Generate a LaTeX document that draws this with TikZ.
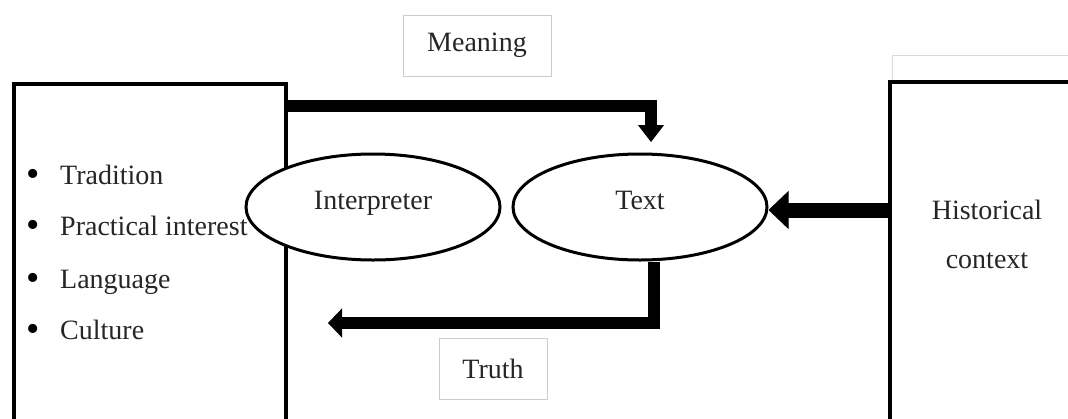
\documentclass[tikz,border=0pt]{standalone}
\usepackage{fontspec}
\setmainfont{Liberation Serif}
\usetikzlibrary{shapes.geometric,arrows.meta}
\begin{document}
\begin{tikzpicture}[x=1pt,y=-1pt,
    every node/.style={font=\fontsize{28}{34}\selectfont,text=black!85},
    thinbox/.style={draw=gray!40,line width=1pt,inner sep=0pt},
    bigbox/.style={draw,line width=4pt,fill=white,inner sep=0pt,anchor=north west},
    oval/.style={draw,ellipse,fill=white,line width=3pt,minimum width=254pt,minimum height=106pt,
      inner sep=0pt,text height=16pt,text depth=12pt},
    bar/.style={line width=12pt,line join=miter}]
  \clip (0,0) rectangle (1068,418);
  % left box with the list
  \node[bigbox,minimum width=272pt,minimum height=360pt] (factors) at (12,82) {};
  \foreach \y/\t in {184/Tradition,235/Practical interest,288/Language,339/Culture} {
    \node[anchor=base,inner sep=0pt,font=\fontsize{38}{38}\selectfont,text=black] (dot\y) at (33,\y+2) {\textbullet};
    \node[anchor=base west,inner sep=0pt] (item\y) at (60,\y) {\t};
  }
  % ovals
  \node[oval] (interp) at (373,207) {Interpreter};
  \node[oval] (text) at (640,207) {Text};
  % right box
  \node[thinbox,draw=gray!30,minimum width=200pt,minimum height=40pt,anchor=north west] (histtop) at (892,55) {};
  \node[bigbox,minimum width=200pt,minimum height=360pt] (hist) at (888,80) {};
  \node[align=center,font=\fontsize{28}{49}\selectfont] (histlabel) at (987,234) {Historical\\context};
  % labels
  \node[thinbox,minimum width=148pt,minimum height=61pt] (meaning) at (477,45.5) {Meaning};
  \node[thinbox,minimum width=108pt,minimum height=61pt] (truth) at (493,368.5) {Truth};
  % arrows
  \draw[bar,-{Triangle[width=26pt,length=17pt,line width=1pt]}] (factors.east |- 0,106) -| (651,142);
  \draw[bar,line width=15pt,-{Triangle[width=38pt,length=20pt,line width=1pt]}] (hist.west |- 0,210) -- (text.east |- 0,210);
  \draw[bar,-{Triangle[width=29pt,length=14pt,line width=1pt]}] (text.south -| 654,0) |- (328,323);
\end{tikzpicture}
\end{document}
